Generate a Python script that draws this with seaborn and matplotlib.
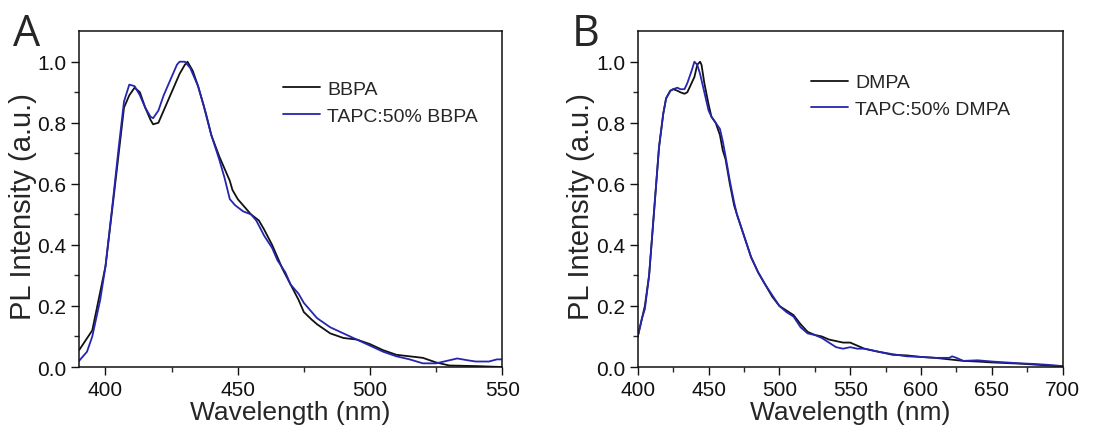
import numpy as np
import pandas as pd
import seaborn as sns
import matplotlib.pyplot as plt

# panel A data
wl_bbpa = [390, 395, 400, 403, 405, 407, 409, 411, 413, 415, 417, 418, 420, 422, 425, 428,
           430, 431, 433, 435, 437, 440, 443, 445, 447, 448, 450, 452, 455, 458, 460, 463,
           465, 467, 470, 473, 475, 478, 480, 485, 490, 495, 500, 505, 510, 515, 520, 525,
           530, 540, 550]
pl_bbpa = [0.055, 0.12, 0.33, 0.55, 0.70, 0.85, 0.89, 0.915, 0.90, 0.85, 0.81, 0.795, 0.80, 0.84,
           0.90, 0.96, 0.99, 1.0, 0.97, 0.92, 0.86, 0.76, 0.69, 0.65, 0.61, 0.58, 0.55, 0.53,
           0.50, 0.48, 0.45, 0.40, 0.36, 0.32, 0.27, 0.22, 0.18, 0.155, 0.14, 0.11, 0.095, 0.09,
           0.075, 0.055, 0.04, 0.035, 0.03, 0.015, 0.005, 0.003, 0.0]

wl_tapc_bbpa = [390, 393, 395, 398, 400, 403, 405, 407, 409, 411, 413, 415, 417, 418, 420, 422,
                425, 427, 428, 430, 432, 435, 438, 440, 443, 445, 447, 449, 452, 455, 457, 460,
                463, 465, 468, 470, 473, 475, 478, 480, 485, 490, 495, 500, 505, 510, 515, 520,
                525, 530, 533, 537, 540, 545, 548, 550]
pl_tapc_bbpa = [0.02, 0.05, 0.10, 0.22, 0.33, 0.56, 0.72, 0.87, 0.925, 0.92, 0.89, 0.85, 0.82,
                0.815, 0.84, 0.89, 0.95, 0.99, 1.0, 1.0, 0.98, 0.92, 0.83, 0.76, 0.68, 0.62, 0.55,
                0.53, 0.51, 0.50, 0.48, 0.43, 0.39, 0.35, 0.31, 0.27, 0.24, 0.21, 0.18, 0.16, 0.13,
                0.11, 0.09, 0.07, 0.05, 0.035, 0.025, 0.012, 0.012, 0.022, 0.028, 0.022, 0.018,
                0.018, 0.025, 0.025]

# panel B data
wl_dmpa = [400, 403, 405, 408, 410, 413, 415, 418, 420, 423, 425, 428, 430, 433, 435, 437, 440,
           442, 444, 445, 447, 450, 452, 455, 458, 460, 462, 465, 468, 470, 475, 480, 485, 490,
           495, 500, 505, 510, 515, 520, 525, 530, 535, 540, 545, 550, 555, 560, 570, 580, 590,
           600, 610, 620, 630, 640, 650, 660, 670, 680, 690, 700]
pl_dmpa = [0.10, 0.16, 0.20, 0.30, 0.42, 0.60, 0.72, 0.83, 0.88, 0.905, 0.91, 0.905, 0.90, 0.895,
           0.90, 0.92, 0.95, 0.99, 1.0, 0.99, 0.93, 0.86, 0.82, 0.80, 0.76, 0.71, 0.68, 0.60, 0.53,
           0.50, 0.43, 0.36, 0.31, 0.27, 0.23, 0.20, 0.185, 0.17, 0.14, 0.115, 0.105, 0.10, 0.09,
           0.085, 0.08, 0.08, 0.07, 0.06, 0.05, 0.04, 0.038, 0.033, 0.03, 0.025, 0.02, 0.018,
           0.015, 0.013, 0.011, 0.008, 0.005, 0.002]

wl_tapc_dmpa = [400, 403, 405, 408, 410, 413, 415, 418, 420, 423, 425, 428, 430, 433, 435, 438,
                440, 442, 444, 447, 450, 452, 455, 458, 460, 462, 465, 468, 470, 475, 480, 485,
                490, 495, 500, 505, 510, 515, 520, 525, 530, 535, 540, 545, 550, 555, 560, 570,
                580, 590, 600, 610, 620, 622, 625, 630, 640, 650, 660, 670, 680, 690, 700]
pl_tapc_dmpa = [0.10, 0.16, 0.19, 0.30, 0.42, 0.60, 0.72, 0.83, 0.88, 0.905, 0.91, 0.915, 0.91,
                0.91, 0.93, 0.97, 1.0, 0.99, 0.96, 0.90, 0.84, 0.82, 0.80, 0.78, 0.74, 0.69, 0.61,
                0.54, 0.50, 0.43, 0.36, 0.31, 0.27, 0.235, 0.20, 0.18, 0.165, 0.13, 0.11, 0.105,
                0.095, 0.08, 0.065, 0.06, 0.065, 0.06, 0.06, 0.05, 0.042, 0.035, 0.033, 0.03, 0.03,
                0.035, 0.03, 0.02, 0.022, 0.018, 0.015, 0.012, 0.01, 0.007, 0.003]

sns.set_style("ticks")
plt.rcParams['font.family'] = ['Liberation Sans', 'DejaVu Sans']
plt.rcParams['xtick.direction'] = 'out'
plt.rcParams['ytick.direction'] = 'out'

BLACK = "#111111"
BLUE = "#2525b0"

fig = plt.figure(figsize=(11.15, 4.35), dpi=100)
ax_a = fig.add_axes([0.0709, 0.154, 0.3795, 0.772])
ax_b = fig.add_axes([0.572, 0.154, 0.381, 0.772])


def make_df(wl1, pl1, name1, wl2, pl2, name2):
    d1 = pd.DataFrame({"wl": wl1, "pl": pl1, "sample": name1})
    d2 = pd.DataFrame({"wl": wl2, "pl": pl2, "sample": name2})
    return pd.concat([d1, d2], ignore_index=True)


panels = [
    (ax_a, make_df(wl_bbpa, pl_bbpa, "BBPA", wl_tapc_bbpa, pl_tapc_bbpa, "TAPC:50% BBPA"),
     (390, 550), [400, 450, 500, 550], "A", 0.012, (0.46, 0.882)),
    (ax_b, make_df(wl_dmpa, pl_dmpa, "DMPA", wl_tapc_dmpa, pl_tapc_dmpa, "TAPC:50% DMPA"),
     (400, 700), [400, 450, 500, 550, 600, 650, 700], "B", 0.513, (0.386, 0.902)),
]

for ax, df, xlim, xticks, letter, lx, lpos in panels:
    names = list(df["sample"].unique())
    sns.lineplot(data=df, x="wl", y="pl", hue="sample", ax=ax, sort=False,
                 palette={names[0]: BLACK, names[1]: BLUE}, linewidth=1.3)
    ax.set_xlim(*xlim)
    ax.set_ylim(0, 1.1)
    ax.set_xticks(xticks)
    ax.set_xticks([(a + b) / 2 for a, b in zip(xticks[:-1], xticks[1:])], minor=True)
    ax.set_yticks([0.0, 0.2, 0.4, 0.6, 0.8, 1.0])
    ax.set_yticklabels(["0.0", "0.2", "0.4", "0.6", "0.8", "1.0"])
    ax.set_yticks(np.arange(0.1, 1.1, 0.2), minor=True)
    ax.tick_params(axis="both", which="major", length=6, width=1, labelsize=15,
                   colors="#111111", pad=3)
    ax.tick_params(axis="both", which="minor", length=3.5, width=1)
    for s in ax.spines.values():
        s.set_linewidth(1.1)
        s.set_color("#111111")
    ax.set_xlabel("Wavelength (nm)", fontsize=19, labelpad=1)
    ax.set_ylabel("PL Intensity (a.u.)", fontsize=21)
    ax.yaxis.set_label_coords(-0.1, 0.48)
    leg = ax.legend(loc="upper left", bbox_to_anchor=lpos, frameon=False, fontsize=14,
                    handlelength=1.9, labelspacing=0.45, borderpad=0, handletextpad=0.35)
    for h in leg.get_lines():
        h.set_linewidth(1.3)
    fig.text(lx, 0.895, letter, fontsize=31, family=["Open Sans", "DejaVu Sans"])

fig.savefig("out.png", dpi=100, facecolor="white")
